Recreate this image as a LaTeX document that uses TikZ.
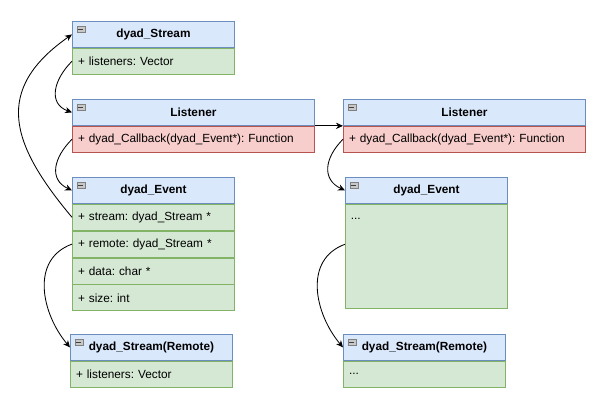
\documentclass[tikz,border=0pt]{standalone}
\usepackage{fontspec}
\setmainfont{Liberation Sans}
\usetikzlibrary{positioning,arrows.meta}

\definecolor{hdrfill}{HTML}{DAE8FC}
\definecolor{hdrline}{HTML}{6C8EBF}
\definecolor{grnfill}{HTML}{D5E8D4}
\definecolor{grnline}{HTML}{82B366}
\definecolor{redfill}{HTML}{F8CECC}
\definecolor{redline}{HTML}{B85450}
\definecolor{iconfill}{HTML}{C8C8C8}

\tikzset{
  hdr/.style={draw=hdrline, fill=hdrfill, line width=0.6pt,
    minimum width=#1, minimum height=0.65cm, inner sep=0pt,
    font=\fontsize{8.4}{10}\selectfont\bfseries,
    path picture={
      \draw[draw=gray, fill=iconfill, line width=0.4pt]
        ([shift={(0.11cm,-0.13cm)}]path picture bounding box.north west)
        rectangle ++(0.2cm,-0.15cm);
      \draw[line width=0.7pt, black!75]
        ([shift={(0.15cm,-0.205cm)}]path picture bounding box.north west)
        -- ++(0.12cm,0);
    }},
  row/.style={draw=grnline, fill=grnfill, line width=0.6pt,
    text width=#1, minimum height=0.65cm, inner xsep=4pt, inner ysep=0pt,
    align=left, font=\fontsize{8.4}{10}\selectfont},
  redrow/.style={row=#1, draw=redline, fill=redfill},
  conn/.style={-{Stealth[length=5pt,width=4.5pt]}, line width=0.6pt, black}
}

\begin{document}
\frenchspacing
\begin{tikzpicture}[x=0.025cm, y=0.025cm]
  \useasboundingbox (0,0) rectangle (600,-406);

  % Class dyad_Stream
  \node[hdr=4.05cm, anchor=north west] (streamH) at (72,-21) {dyad\_Stream};
  \node[row=3.77cm, below=0pt of streamH] (streamB) {+ listeners: Vector};

  % Class Listener (left)
  \node[hdr=6.05cm, anchor=north west] (lisH) at (72,-99) {Listener};
  \node[redrow=5.77cm, below=0pt of lisH] (lisB) {+ dyad\_Callback(dyad\_Event*): Function};

  % Class dyad_Event (left)
  \node[hdr=4.05cm, anchor=north west] (evH) at (72,-177) {dyad\_Event};
  \node[row=3.77cm, below=0pt of evH] (evStream) {+ stream: dyad\_Stream *};
  \node[row=3.77cm, below=0pt of evStream] (evRemote) {+ remote: dyad\_Stream *};
  \node[row=3.77cm, below=0pt of evRemote] (evData) {+ data: char *};
  \node[row=3.77cm, below=0pt of evData] (evSize) {+ size: int};

  % Class dyad_Stream(Remote) (left)
  \node[hdr=4.05cm, anchor=north west] (remH) at (70,-334) {dyad\_Stream(Remote)};
  \node[row=3.77cm, below=0pt of remH] (remB) {+ listeners: Vector};

  % Class Listener (right)
  \node[hdr=6.05cm, anchor=north west] (rlisH) at (343,-99) {Listener};
  \node[redrow=5.77cm, below=0pt of rlisH] (rlisB) {+ dyad\_Callback(dyad\_Event*): Function};

  % Class dyad_Event (right)
  \node[hdr=4.05cm, anchor=north west] (revH) at (345,-177) {dyad\_Event};
  \node[row=3.77cm, minimum height=2.6cm, below=0pt of revH,
    label={[anchor=north west, inner xsep=4pt, inner ysep=10pt,
      font=\fontsize{8.4}{10}\selectfont]north west:...}] (revB) {};

  % Class dyad_Stream(Remote) (right)
  \node[hdr=4.05cm, anchor=north west] (rremH) at (343,-334) {dyad\_Stream(Remote)};
  \node[row=3.77cm, below=0pt of rremH] (rremB) {...};

  % Connectors
  \draw[conn] (streamB.west) to[out=225, in=160, looseness=1.3] (lisH.west);
  \draw[conn] (lisB.west) to[out=225, in=155, looseness=1.3] (evH.west);
  \draw[conn] (evStream.west) to[out=130, in=215, looseness=1.35] (streamH.west);
  \draw[conn] (evRemote.west) to[out=200, in=130, looseness=1.1] (remH.west);
  \draw[conn] (lisH.south east) -- (rlisH.south west);
  \draw[conn] (rlisB.west) to[out=225, in=155, looseness=1.3] (revH.west);
  \draw[conn] ([yshift=0.3cm]revB.west) to[out=200, in=130, looseness=1.1] (rremH.west);
\end{tikzpicture}
\end{document}
